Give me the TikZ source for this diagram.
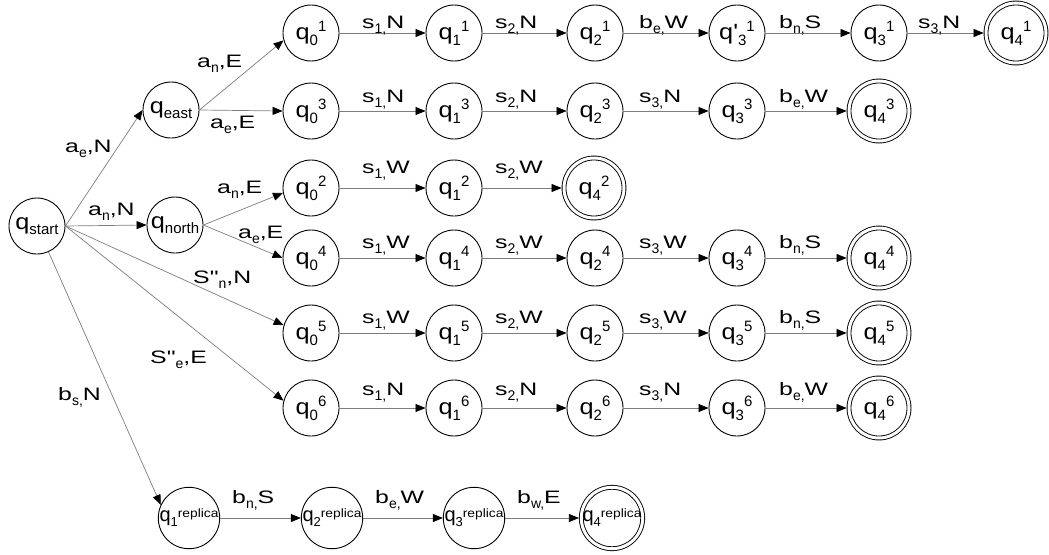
\documentclass[tikz,border=0pt]{standalone}
\usepackage{fontspec}
\newfontfamily\lsans{Liberation Sans}
\newfontfamily\lwide{Liberation Sans}[FakeStretch=1.38]
\newfontfamily\lqf{Liberation Sans}[FakeStretch=1.15]
\usetikzlibrary{arrows.meta}
\newcommand\qn[3][q]{#1\raisebox{-6pt}{\lsans\fontsize{15}{15}\selectfont #2}\raisebox{8pt}{\lsans\fontsize{15}{15}\selectfont #3}}
\newcommand\qsub[1]{q\raisebox{-5pt}{\lsans\fontsize{15}{15}\selectfont #1}}
\newcommand\qrep[1]{q\raisebox{-5pt}{\lsans\fontsize{13}{13}\selectfont #1}\raisebox{4pt}{\lqf\fontsize{12}{12}\selectfont replica}}
\newcommand\lb[3]{#1\raisebox{-5pt}{\lsans\fontsize{14}{14}\selectfont #2}#3}
\definecolor{edgegray}{RGB}{125,125,125}
\begin{document}
\begin{tikzpicture}[x=1pt,y=-1pt,
  st/.style={circle,draw=black,line width=0.9pt,minimum size=56pt,inner sep=0pt,font=\lqf\fontsize{22}{22}\selectfont},
  acc/.style={st,minimum size=60pt,double,double distance=3pt,outer sep=2.4pt},
  rep/.style={st,font=\lsans\fontsize{20}{20}\selectfont},
  repacc/.style={acc,font=\lsans\fontsize{20}{20}\selectfont},
  arr/.style={draw=edgegray,line width=0.7pt,-{Triangle[length=10pt,width=8pt,color=black]}},
  lbl/.style={inner sep=0pt,anchor=base west,font=\lwide\fontsize{18}{18}\selectfont}]
\useasboundingbox (0,0) rectangle (1049,554);
% left part
\node[st] (qstart) at (37,226) {\qsub{start}};
\node[st] (qeast) at (171,110) {\qsub{east}};
\node[st] (qnorth) at (175,225) {\qsub{north}};
% row A
\node[st] (a0) at (311,33) {\qn{0}{1}};
\node[st] (a1) at (454,33) {\qn{1}{1}};
\node[st] (a2) at (595,33) {\qn{2}{1}};
\node[st] (a3p) at (737,33) {\qn[q']{3}{1}};
\node[st] (a3) at (879,33) {\qn{3}{1}};
\node[acc] (a4) at (1016,33) {\qn{4}{1}};
% row B
\node[st] (b0) at (311,111) {\qn{0}{3}};
\node[st] (b1) at (454,111) {\qn{1}{3}};
\node[st] (b2) at (595,111) {\qn{2}{3}};
\node[st] (b3) at (737,111) {\qn{3}{3}};
\node[acc] (b4) at (879,111) {\qn{4}{3}};
% row C
\node[st] (c0) at (311,188) {\qn{0}{2}};
\node[st] (c1) at (454,188) {\qn{1}{2}};
\node[acc] (c4) at (594,188) {\qn{4}{2}};
% row D
\node[st] (d0) at (311,258) {\qn{0}{4}};
\node[st] (d1) at (454,258) {\qn{1}{4}};
\node[st] (d2) at (595,258) {\qn{2}{4}};
\node[st] (d3) at (737,258) {\qn{3}{4}};
\node[acc] (d4) at (879,258) {\qn{4}{4}};
% row E
\node[st] (e0) at (311,333) {\qn{0}{5}};
\node[st] (e1) at (454,333) {\qn{1}{5}};
\node[st] (e2) at (595,333) {\qn{2}{5}};
\node[st] (e3) at (737,333) {\qn{3}{5}};
\node[acc] (e4) at (879,333) {\qn{4}{5}};
% row F
\node[st] (f0) at (311,408) {\qn{0}{6}};
\node[st] (f1) at (454,408) {\qn{1}{6}};
\node[st] (f2) at (595,408) {\qn{2}{6}};
\node[st] (f3) at (737,408) {\qn{3}{6}};
\node[acc] (f4) at (879,408) {\qn{4}{6}};
% row G
\node[rep] (g1) at (189,518) {\qrep{1}};
\node[rep] (g2) at (332,518) {\qrep{2}};
\node[rep] (g3) at (474,518) {\qrep{3}};
\node[repacc] (g4) at (612,518) {\qrep{4}};
% left connectors
\draw[arr] (qstart.east) -- (qeast.west);
\draw[arr] (qstart.east) -- (qnorth.west);
\draw[arr] (qstart.east) -- (e0.164);
\draw[arr] (qstart.east) -- (f0.165);
\draw[arr] (qstart) -- (g1.155);
\draw[arr] (qeast.east) -- (a0.195);
\draw[arr] (qeast.east) -- (b0.west);
\draw[arr] (qnorth.east) -- (c0.190);
\draw[arr] (qnorth.east) -- (d0.west);
% rows
\draw[arr] (a0) -- (a1); \draw[arr] (a1) -- (a2); \draw[arr] (a2) -- (a3p); \draw[arr] (a3p) -- (a3); \draw[arr] (a3) -- (a4);
\draw[arr] (b0) -- (b1); \draw[arr] (b1) -- (b2); \draw[arr] (b2) -- (b3); \draw[arr] (b3) -- (b4);
\draw[arr] (c0) -- (c1); \draw[arr] (c1) -- (c4);
\draw[arr] (d0) -- (d1); \draw[arr] (d1) -- (d2); \draw[arr] (d2) -- (d3); \draw[arr] (d3) -- (d4);
\draw[arr] (e0) -- (e1); \draw[arr] (e1) -- (e2); \draw[arr] (e2) -- (e3); \draw[arr] (e3) -- (e4);
\draw[arr] (f0) -- (f1); \draw[arr] (f1) -- (f2); \draw[arr] (f2) -- (f3); \draw[arr] (f3) -- (f4);
\draw[arr] (g1) -- (g2); \draw[arr] (g2) -- (g3); \draw[arr] (g3) -- (g4);
% left labels
\node[lbl] (l1) at (65,152) {\lb{a}{e}{,N}};
\node[lbl] (l2) at (88,215) {\lb{a}{n}{,N}};
\node[lbl] (l3) at (197,67) {\lb{a}{n}{,E}};
\node[lbl] (l4) at (210,128) {\lb{a}{e}{,E}};
\node[lbl] (l5) at (217,193) {\lb{a}{n}{,E}};
\node[lbl] (l6) at (238,238) {\lb{a}{e}{,E}};
\node[lbl] (l7) at (193,283) {\lb{S"}{n}{,N}};
\node[lbl] (l8) at (150,363) {\lb{S"}{e}{,E}};
\node[lbl] (l9) at (58,400) {\lb{b}{s,}{N}};
% row A labels
\node[lbl] (la1) at (362,28) {\lb{s}{1,}{N}};
\node[lbl] (la2) at (495,28) {\lb{s}{2,}{N}};
\node[lbl] (la3) at (639,28) {\lb{b}{e,}{W}};
\node[lbl] (la4) at (779,28) {\lb{b}{n,}{S}};
\node[lbl] (la5) at (918,28) {\lb{s}{3,}{N}};
% row B labels
\node[lbl] (lb1) at (362,102) {\lb{s}{1,}{N}};
\node[lbl] (lb2) at (495,102) {\lb{s}{2,}{N}};
\node[lbl] (lb3) at (639,102) {\lb{s}{3,}{N}};
\node[lbl] (lb4) at (779,102) {\lb{b}{e,}{W}};
% row C labels
\node[lbl] (lc1) at (362,173) {\lb{s}{1,}{W}};
\node[lbl] (lc2) at (495,173) {\lb{s}{2,}{W}};
% row D labels
\node[lbl] (ld1) at (362,248) {\lb{s}{1,}{W}};
\node[lbl] (ld2) at (495,248) {\lb{s}{2,}{W}};
\node[lbl] (ld3) at (639,248) {\lb{s}{3,}{W}};
\node[lbl] (ld4) at (779,248) {\lb{b}{n,}{S}};
% row E labels
\node[lbl] (le1) at (362,323) {\lb{s}{1,}{W}};
\node[lbl] (le2) at (495,323) {\lb{s}{2,}{W}};
\node[lbl] (le3) at (639,323) {\lb{s}{3,}{W}};
\node[lbl] (le4) at (779,323) {\lb{b}{n,}{S}};
% row F labels
\node[lbl] (lf1) at (362,395) {\lb{s}{1,}{N}};
\node[lbl] (lf2) at (495,395) {\lb{s}{2,}{N}};
\node[lbl] (lf3) at (639,395) {\lb{s}{3,}{N}};
\node[lbl] (lf4) at (779,395) {\lb{b}{e,}{W}};
% row G labels
\node[lbl] (lg1) at (232,503) {\lb{b}{n,}{S}};
\node[lbl] (lg2) at (375,503) {\lb{b}{e,}{W}};
\node[lbl] (lg3) at (517,503) {\lb{b}{w,}{E}};
\end{tikzpicture}
\end{document}
